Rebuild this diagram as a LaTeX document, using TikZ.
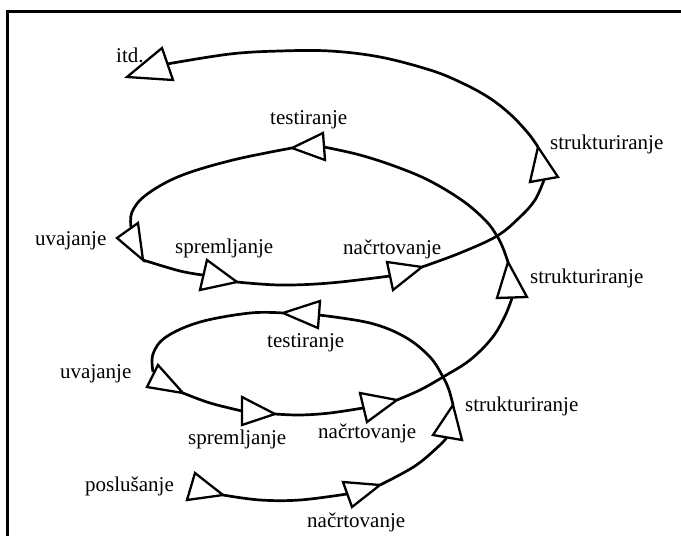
\documentclass[tikz,border=0pt]{standalone}
\usepackage{fontspec}
\setmainfont{Liberation Serif}
\begin{document}
\begin{tikzpicture}[x=1pt,y=-1pt,
    lbl/.style={font=\fontsize{21}{21}\selectfont,inner sep=0pt,anchor=base west},
    tri/.style={draw,fill=white,line width=2.3pt,line join=miter},
    spiral/.style={line width=2.7pt,smooth,tension=0.6}]
    \useasboundingbox (0,0) rectangle (681,536);
    \draw[line width=3pt] (7,560) -- (7,11) -- (700,11);
    % tips and bases of the arrows
    \coordinate (posT) at (223,495);
    \coordinate (nac1B) at (347,494);   \coordinate (nac1T) at (380,485);
    \coordinate (str1B) at (447,437);   \coordinate (str1T) at (453,405);
    \coordinate (tes1B) at (319,315);   \coordinate (tes1T) at (283,313);
    \coordinate (uva1B) at (153,372);   \coordinate (uva1T) at (183,393);
    \coordinate (spr1B) at (242,411);   \coordinate (spr1T) at (275,414);
    \coordinate (nac2B) at (363,408);   \coordinate (nac2T) at (397,400);
    \coordinate (str2B) at (512,298);   \coordinate (str2T) at (508,262);
    \coordinate (tes2B) at (324,147);   \coordinate (tes2T) at (292,148);
    \coordinate (uva2B) at (131,227);   \coordinate (uva2T) at (143,260);
    \coordinate (spr2B) at (203,275);   \coordinate (spr2T) at (237,282);
    \coordinate (nac3B) at (390,276);   \coordinate (nac3T) at (422,267);
    \coordinate (str3B) at (544,180);   \coordinate (str3T) at (538,147);
    \coordinate (itdB) at (167,64);
    % the spiral
    \draw[spiral] plot coordinates {(posT) (260,500) (300,500) (nac1B)};
    \draw[spiral] plot coordinates {(nac1T) (415,466) (440,445) (str1B)};
    \draw[spiral] plot coordinates {(str1T) (449,390) (443,377) (430,357) (405,337) (370,323) (tes1B)};
    \draw[spiral] plot coordinates {(tes1T) (250,313) (200,322) (166,337) (153,354) (uva1B)};
    \draw[spiral] plot coordinates {(uva1T) (210,403) (spr1B)};
    \draw[spiral] plot coordinates {(spr1T) (300,415) (330,413) (nac2B)};
    \draw[spiral] plot coordinates {(nac2T) (420,390) (443,377) (470,360) (492,338) (505,316) (str2B)};
    \draw[spiral] plot coordinates {(str2T) (503,248) (497,236) (486,221) (463,201) (430,181) (397,167) (360,155) (tes2B)};
    \draw[spiral] plot coordinates {(tes2T) (233,160) (180,176) (146,195) (132,212) (uva2B)};
    \draw[spiral] plot coordinates {(uva2T) (180,271) (spr2B)};
    \draw[spiral] plot coordinates {(spr2T) (280,285) (330,283) (nac3B)};
    \draw[spiral] plot coordinates {(nac3T) (460,253) (497,236) (520,217) (535,200) (str3B)};
    \draw[spiral] plot coordinates {(str3T) (528,133) (510,114) (488,97) (460,82) (430,70) (380,57) (330,51) (280,51) (230,54) (itdB)};
    % arrows
    \draw[tri] (195,473) -- (223,495) -- (187,500) -- cycle;
    \draw[tri] (343,482) -- (380,485) -- (352,507) -- cycle;
    \draw[tri] (453,405) -- (462,440) -- (433,435) -- cycle;
    \draw[tri] (320,301) -- (283,313) -- (318,328) -- cycle;
    \draw[tri] (158,365) -- (183,393) -- (147,387) -- cycle;
    \draw[tri] (242,397) -- (275,414) -- (242,425) -- cycle;
    \draw[tri] (360,393) -- (397,400) -- (367,422) -- cycle;
    \draw[tri] (508,262) -- (527,297) -- (497,298) -- cycle;
    \draw[tri] (323,133) -- (292,148) -- (325,160) -- cycle;
    \draw[tri] (138,223) -- (143,260) -- (117,238) -- cycle;
    \draw[tri] (207,260) -- (237,282) -- (200,290) -- cycle;
    \draw[tri] (387,262) -- (422,267) -- (393,290) -- cycle;
    \draw[tri] (538,147) -- (558,177) -- (530,182) -- cycle;
    \draw[tri] (162,48) -- (173,80) -- (127,77) -- cycle;
    % labels
    \node[lbl] (itd) at (116,62) {itd.};
    \node[lbl] (tes2) at (270,124) {testiranje};
    \node[lbl] (str3) at (550,149) {strukturiranje};
    \node[lbl] (uva2) at (35,245) {uvajanje};
    \node[lbl] (spr2) at (175,253) {spremljanje};
    \node[lbl] (nac3) at (343,254) {načrtovanje};
    \node[lbl] (str2) at (530,283) {strukturiranje};
    \node[lbl] (tes1) at (267,347) {testiranje};
    \node[lbl] (uva1) at (60,378) {uvajanje};
    \node[lbl] (str1) at (465,411) {strukturiranje};
    \node[lbl] (nac2) at (318,438) {načrtovanje};
    \node[lbl] (spr1) at (188,444) {spremljanje};
    \node[lbl] (pos) at (85,491) {poslušanje};
    \node[lbl] (nac1) at (307,527) {načrtovanje};
\end{tikzpicture}
\end{document}
